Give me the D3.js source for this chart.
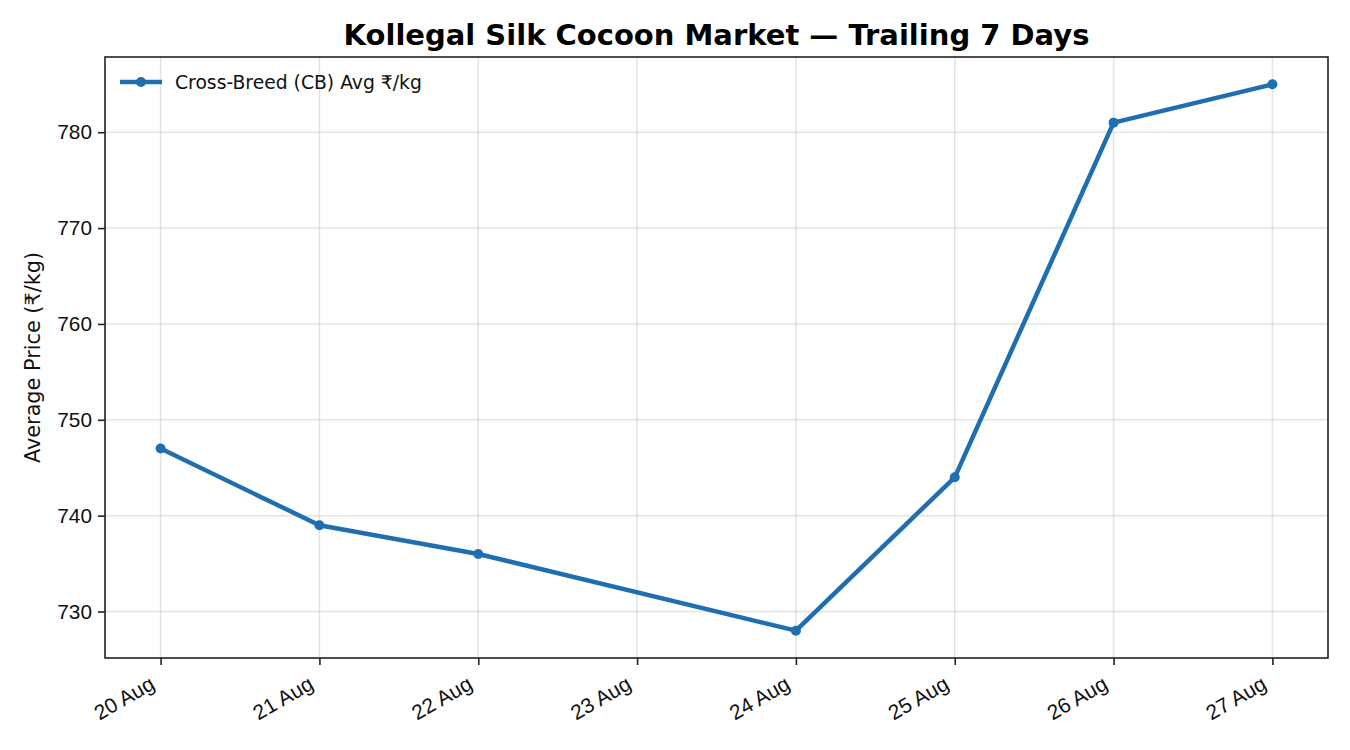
<!DOCTYPE html>
<html>
<head>
<meta charset="utf-8">
<script src="https://cdn.jsdelivr.net/npm/d3@7/dist/d3.min.js"></script>
<style>
  body { margin: 0; background: #fff; }
  svg { font-family: "DejaVu Sans", sans-serif; }
</style>
</head>
<body>
<svg id="chart" width="1350" height="750"></svg>
<script>
// data (no reading for 23 Aug)
const days = ['20 Aug', '21 Aug', '22 Aug', '23 Aug', '24 Aug', '25 Aug', '26 Aug', '27 Aug'];
const dayIndex = [0, 1, 2, 4, 5, 6, 7];
const cbPrice = [747, 739, 736, 728, 744, 781, 785];
const yTicks = [730, 740, 750, 760, 770, 780];

const W = 1350, H = 750;
const m = { top: 57, right: 22, bottom: 92, left: 105 };
const iw = W - m.left - m.right, ih = H - m.top - m.bottom;
const blue = '#1f6fb0';

const svg = d3.select('#chart');
const g = svg.append('g').attr('transform', `translate(${m.left},${m.top})`);

// matplotlib-ish 5% margins
const x = d3.scaleLinear().domain([-0.35, 7.35]).range([0, iw]);
const yMin = d3.min(cbPrice), yMax = d3.max(cbPrice), pad = (yMax - yMin) * 0.05;
const y = d3.scaleLinear().domain([yMin - pad, yMax + pad]).range([ih, 0]);

// grid
g.append('g').selectAll('line.gx').data(days.map((d, i) => i)).join('line')
  .attr('x1', d => x(d)).attr('x2', d => x(d)).attr('y1', 0).attr('y2', ih)
  .attr('stroke', '#b0b0b0').attr('stroke-opacity', 0.35).attr('stroke-width', 1.5);
g.append('g').selectAll('line.gy').data(yTicks).join('line')
  .attr('x1', 0).attr('x2', iw).attr('y1', d => y(d)).attr('y2', d => y(d))
  .attr('stroke', '#b0b0b0').attr('stroke-opacity', 0.35).attr('stroke-width', 1.5);

// axes
const xAxis = d3.axisBottom(x).tickValues(days.map((d, i) => i))
  .tickFormat(i => days[i]).tickSize(7).tickPadding(4);
const gx = g.append('g').attr('transform', `translate(0,${ih})`).call(xAxis);
gx.select('.domain').remove();
gx.selectAll('.tick line').attr('stroke', '#222').attr('stroke-width', 1.6);
gx.selectAll('.tick text')
  .attr('font-size', 21).attr('fill', '#111')
  .attr('text-anchor', 'end')
  .attr('y', 0).attr('dy', 0)
  .attr('transform', 'translate(-5,30) rotate(-30)');

const yAxis = d3.axisLeft(y).tickValues(yTicks).tickSize(7).tickPadding(6);
const gy = g.append('g').call(yAxis);
gy.select('.domain').remove();
gy.selectAll('.tick line').attr('stroke', '#222').attr('stroke-width', 1.6);
gy.selectAll('.tick text').attr('font-size', 20.8).attr('fill', '#111');

// frame
g.append('rect').attr('width', iw).attr('height', ih)
  .attr('fill', 'none').attr('stroke', '#222').attr('stroke-width', 1.6);

// series
const pts = dayIndex.map((d, i) => ({ i: d, v: cbPrice[i] }));
const line = d3.line().x(d => x(d.i)).y(d => y(d.v));
g.append('path').datum(pts).attr('d', line)
  .attr('fill', 'none').attr('stroke', blue).attr('stroke-width', 4.5)
  .attr('stroke-linejoin', 'round');
g.append('g').selectAll('circle').data(pts).join('circle')
  .attr('cx', d => x(d.i)).attr('cy', d => y(d.v)).attr('r', 5)
  .attr('fill', blue);

// legend
const lg = g.append('g').attr('transform', 'translate(15,25)');
lg.append('line').attr('x1', 0).attr('x2', 42).attr('stroke', blue).attr('stroke-width', 4.5);
lg.append('circle').attr('cx', 21).attr('r', 5).attr('fill', blue);
lg.append('text').attr('x', 55).attr('dy', '0.35em').attr('font-size', 18.75)
  .attr('fill', '#111').text('Cross-Breed (CB) Avg ₹/kg');

// title and y label
svg.append('text').attr('x', m.left + iw / 2).attr('y', 45)
  .attr('text-anchor', 'middle').attr('font-size', 29).attr('font-weight', 'bold')
  .attr('fill', '#000').text('Kollegal Silk Cocoon Market — Trailing 7 Days');
svg.append('text')
  .attr('transform', `translate(40,${m.top + ih / 2}) rotate(-90)`)
  .attr('text-anchor', 'middle').attr('font-size', 20.8).attr('fill', '#111')
  .text('Average Price (₹/kg)');
</script>
</body>
</html>
